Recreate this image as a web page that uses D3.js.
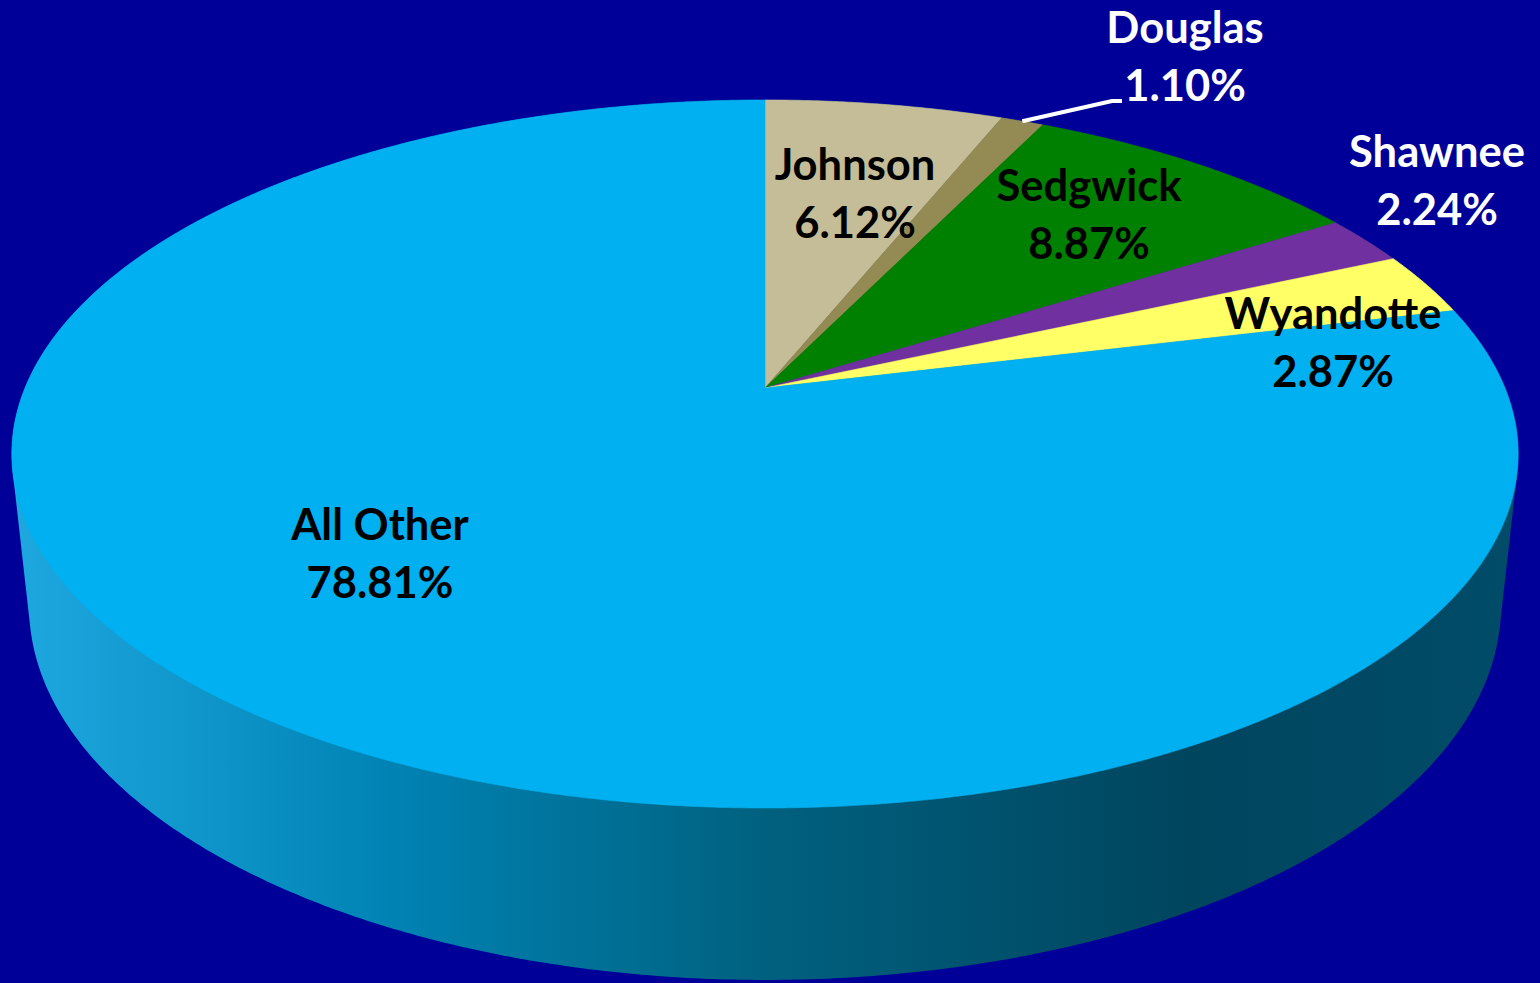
<!DOCTYPE html>
<html>
<head>
<meta charset="utf-8">
<script src="https://cdn.jsdelivr.net/npm/d3@7"></script>
<style>
body { margin: 0; background: #000099; overflow: hidden; }
text { font-family: Lato, "Open Sans", sans-serif; font-weight: bold; }
</style>
</head>
<body>
<div id="chart"></div>
<script>
// data
var counties = ["Johnson", "Douglas", "Sedgwick", "Shawnee", "Wyandotte", "All Other"];
var shares = [6.12, 1.10, 8.87, 2.24, 2.87, 78.81];
var shareLabels = ["6.12%", "1.10%", "8.87%", "2.24%", "2.87%", "78.81%"];
var colors = ["#C4BD97", "#948A54", "#008000", "#7030A0", "#FFFF66", "#00B0F0"];

// label placement (layout only)
var labelLayout = {
  "Johnson":   {x: 855,  y: 180, fill: "#000"},
  "Douglas":   {x: 1185, y: 43,  fill: "#fff"},
  "Sedgwick":  {x: 1089, y: 201, fill: "#000"},
  "Shawnee":   {x: 1437, y: 167, fill: "#fff"},
  "Wyandotte": {x: 1333, y: 329, fill: "#000"},
  "All Other": {x: 380,  y: 540, fill: "#000"}
};
var lineGap = 58;

var width = 1540, height = 983;
var svg = d3.select("#chart").append("svg")
  .attr("width", width)
  .attr("height", height);

svg.append("rect").attr("width", width).attr("height", height).attr("fill", "#000099");

// perspective projection of a tilted disk
var cx = 765, cy = 388, A = 740;
var tilt = Math.asin(0.4618), sinP = Math.sin(tilt), cosP = Math.cos(tilt);
var camDist = 4.76, thick = 0.2336;

function project(a, r, z) {
  var x = r * Math.sin(a), y = -r * Math.cos(a);
  var depth = y * cosP + z * sinP;
  var up = -y * sinP + z * cosP;
  var s = A / (1 - depth / camDist);
  return [cx + s * x, cy - s * up];
}

var data = counties.map(function(c, i) { return {name: c, v: shares[i], label: shareLabels[i], color: colors[i]}; });

var pie = d3.pie().sort(null).value(function(d) { return d.v; });
var arcs = pie(data);

var line = d3.line();

// side gradient
var defs = svg.append("defs");
var grad = defs.append("linearGradient")
  .attr("id", "side")
  .attr("gradientUnits", "userSpaceOnUse")
  .attr("x1", 12).attr("x2", 1518).attr("y1", 0).attr("y2", 0);
grad.append("stop").attr("offset", 0).attr("stop-color", "#1EA8E0");
grad.append("stop").attr("offset", 0.25).attr("stop-color", "#0083B4");
grad.append("stop").attr("offset", 0.5).attr("stop-color", "#00617F");
grad.append("stop").attr("offset", 0.78).attr("stop-color", "#00455E");
grad.append("stop").attr("offset", 1).attr("stop-color", "#004C69");

// side wall: hull of top and bottom rims
var rim = [];
var steps = 720;
for (var i = 0; i < steps; i++) {
  var a = i / steps * 2 * Math.PI;
  rim.push(project(a, 1, 0));
  rim.push(project(a, 1, -thick));
}
var hull = d3.polygonHull(rim);
svg.append("path")
  .attr("d", line(hull) + "Z")
  .attr("fill", "url(#side)");

// top faces
svg.append("g")
  .selectAll("path")
  .data(arcs)
  .enter()
  .append("path")
  .attr("d", function(d) {
    var pts = [project(0, 0, 0)];
    var n = Math.max(4, Math.ceil((d.endAngle - d.startAngle) / 0.005));
    for (var k = 0; k <= n; k++) {
      pts.push(project(d.startAngle + (d.endAngle - d.startAngle) * k / n, 1, 0));
    }
    return line(pts) + "Z";
  })
  .attr("fill", function(d) { return d.data.color; })
  .attr("stroke", function(d) { return d.data.color; })
  .attr("stroke-width", 0.6);

// leader line for Douglas
var doug = arcs[1];
var mid = (doug.startAngle + doug.endAngle) / 2;
var p0 = project(mid, 1.0, 0);
svg.append("path")
  .attr("d", line([p0, [1112, 101], [1122, 101]]))
  .attr("fill", "none")
  .attr("stroke", "#fff")
  .attr("stroke-width", 4);

// labels
var labels = svg.append("g")
  .selectAll("text")
  .data(arcs)
  .enter()
  .append("text")
  .attr("text-anchor", "middle")
  .attr("font-size", 43.5)
  .attr("fill", function(d) { return labelLayout[d.data.name].fill; })
  .attr("x", function(d) { return labelLayout[d.data.name].x; })
  .attr("y", function(d) { return labelLayout[d.data.name].y; });

labels.append("tspan")
  .text(function(d) { return d.data.name; });
labels.append("tspan")
  .attr("x", function(d) { return labelLayout[d.data.name].x; })
  .attr("dy", lineGap)
  .text(function(d) { return d.data.label; });
</script>
</body>
</html>
